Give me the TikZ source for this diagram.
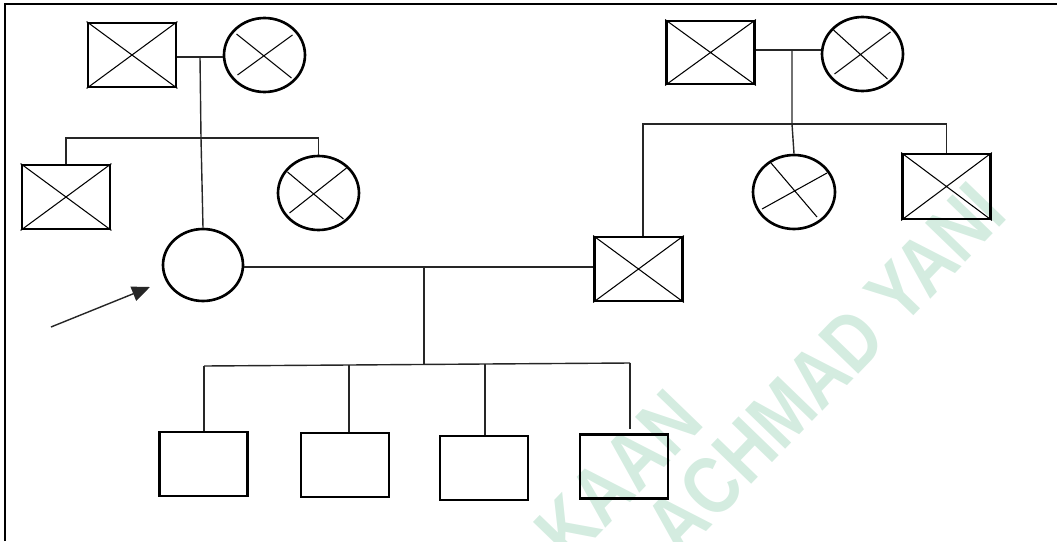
\documentclass[tikz,border=0pt]{standalone}
\usepackage{fontspec}
\setmainfont{Liberation Sans}
\usetikzlibrary{arrows.meta,calc,shapes.geometric}
\definecolor{wm}{RGB}{212,236,224}
\begin{document}
\begin{tikzpicture}[x=0.02cm,y=-0.02cm,
  box/.style={draw,rectangle,line width=1.6pt,minimum width=1.76cm,minimum height=1.28cm,inner sep=0pt},
  circ/.style={draw,ellipse,line width=1.5pt,minimum width=1.62cm,minimum height=1.48cm,inner sep=0pt},
  conn/.style={line width=0.8pt,black!85},
  xline/.style={line width=0.6pt},
  frame/.style={line width=1.4pt},
  wmark/.style={text=wm,font=\bfseries\fontsize{37}{37}\selectfont,rotate=46,inner sep=0pt}]
\useasboundingbox (0,0) rectangle (1057,541);
% watermark
\begin{scope}
\clip (0,0) rectangle (1057,541);
\node[wmark] (w1) at (825,368) {\scalebox{1.04}[1.25]{ACHMAD YANI}};
\node[wmark] (w2) at (618,475) {\scalebox{1.04}[1.25]{KAAN}};
\end{scope}
% frame
\coordinate (f1) at (5,541);
\coordinate (f2) at (5,4);
\coordinate (f3) at (1057,4);
\draw[frame] (f1) -- (f2) -- (f3);
% left grandparents
\node[box] (gf1) at (132,55) {};
\node[circ] (gm1) at (264.5,55) {};
\node[box] (su1) at (66,197) {};
\node[circ] (si1) at (318.5,193) {};
\node[circ,minimum width=1.6cm,minimum height=1.44cm] (pro) at (203,265) {};
% right grandparents
\node[box,minimum height=1.26cm] (gf2) at (710.5,52.5) {};
\node[circ] (gm2) at (862.5,54) {};
\node[circ,minimum width=1.64cm] (si2) at (794,192) {};
\node[box,minimum height=1.3cm] (br2) at (946.5,186.5) {};
\node[box] (hus) at (638.5,269) {};
% children
\node[box] (c1) at (203.5,464) {};
\node[box] (c2) at (345,465) {};
\node[box] (c3) at (484,468) {};
\node[box] (c4) at (624,466.5) {};
% crosses in squares
\foreach \n in {gf1,su1,gf2,br2,hus}{
  \draw[xline] (\n.north west) -- (\n.south east) (\n.south west) -- (\n.north east);
}
% crosses in circles
\draw[xline] ($(gm1.center)+(-28,-21)$) -- ($(gm1.center)+(27,23)$)
             ($(gm1.center)+(28,-20)$) -- ($(gm1.center)+(-27,20)$);
\draw[xline] ($(gm2.center)+(-29,-24)$) -- ($(gm2.center)+(25,25)$)
             ($(gm2.center)+(-28,20)$) -- ($(gm2.center)+(28,-22)$);
\draw[xline] ($(si1.center)+(-31,-21)$) -- ($(si1.center)+(25,26)$)
             ($(si1.center)+(-29,20)$) -- ($(si1.center)+(28,-25)$);
\draw[xline] ($(si2.center)+(-23,-29)$) -- ($(si2.center)+(23,25)$)
             ($(si2.center)+(-32,17)$) -- ($(si2.center)+(33,-19)$);
% left family connectors
\coordinate (m1) at (200,57);
\coordinate (s1) at (201,138);
\draw[conn] (gf1.east |- m1) -- (gm1.west |- m1);
\draw[conn] (m1) -- (s1) -- (pro.north);
\draw[conn] (su1.north) -- (su1.north |- s1) -- (si1.north |- s1) -- (si1.north);
% right family connectors
\coordinate (m2) at (792,50);
\coordinate (s2) at (792,124);
\coordinate (d1) at (643,124);
\draw[conn] (gf2.east |- m2) -- (gm2.west |- m2);
\draw[conn] (m2) -- (s2) -- (si2.north);
\draw[conn] (d1 |- hus.north) -- (d1) -- (br2.north |- s2) -- (br2.north);
% couple and children
\coordinate (m3) at (424,267);
\coordinate (s3) at (424,365);
\coordinate (k1) at (204,366);
\coordinate (k2) at (349,365);
\coordinate (k3) at (485,364);
\coordinate (k4) at (630,363);
\draw[conn] (pro.east |- m3) -- (hus.west |- m3);
\draw[conn] (m3) -- (s3);
\draw[conn] (k1) -- (k2) -- (k3) -- (k4);
\draw[conn] (k1) -- (k1 |- c1.north);
\draw[conn] (k2) -- (k2 |- c2.north);
\draw[conn] (k3) -- (k3 |- c3.north);
\draw[conn] (k4) -- ($(k4 |- c4.north)+(0,-4)$);
% proband arrow
\coordinate (as) at (51,327);
\coordinate (at) at (150,287);
\draw[conn,-{Triangle[length=0.36cm,width=0.3cm]}] (as) -- (at);
\end{tikzpicture}
\end{document}
